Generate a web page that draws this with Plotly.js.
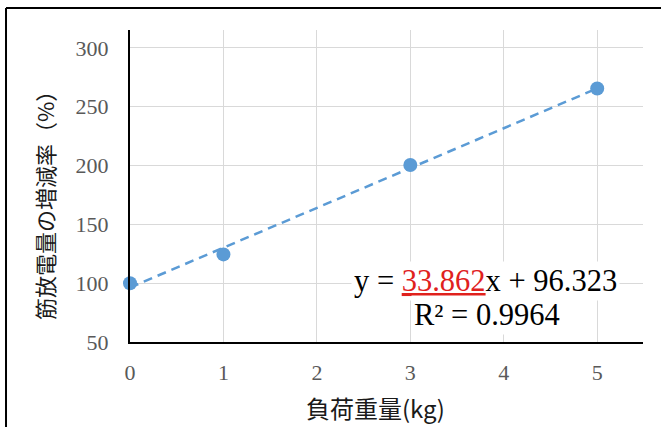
<!DOCTYPE html>
<html>
<head>
<meta charset="utf-8">
<script src="https://cdn.plot.ly/plotly-3.0.1.min.js"></script>
<style>
  html, body { margin: 0; padding: 0; background: #ffffff; }
  #chart { width: 661px; height: 427px; }
</style>
</head>
<body>
<div id="chart"></div>
<script>
// ---- data ----
var loadKg = [0, 1, 3, 5];
var emgChange = [100, 124.5, 200.5, 265.5];

// linear trendline coefficients as printed on the chart
var trendSlope = 33.862;
var trendIntercept = 96.323;
var trendR2 = 0.9964;
var trendX = [0, 5];
var trendY = trendX.map(function (x) { return trendSlope * x + trendIntercept; });

var xTickVals = [0, 1, 2, 3, 4, 5];
var yTickVals = [50, 100, 150, 200, 250, 300];

var xTitle = '負荷重量(kg)';
var yTitle = '筋放電量の増減率（%）';

var blue = '#5b9bd5';
var serif = '"Liberation Serif", "Times New Roman", serif';
var cjk = '"Noto Sans CJK JP", "Noto Sans", sans-serif';

var traces = [
  {
    x: trendX, y: trendY,
    type: 'scatter', mode: 'lines',
    line: { color: blue, width: 2.5, dash: '9px,6px' },
    hoverinfo: 'skip', showlegend: false
  },
  {
    x: loadKg, y: emgChange,
    type: 'scatter', mode: 'markers',
    marker: { color: blue, size: 14 },
    cliponaxis: false, showlegend: false
  }
];

var layout = {
  width: 661, height: 427,
  margin: { l: 130, r: 18, t: 30, b: 85 },
  paper_bgcolor: '#ffffff',
  plot_bgcolor: '#ffffff',
  showlegend: false,
  xaxis: {
    range: [0, 5.49],
    tickvals: xTickVals,
    showgrid: true, gridcolor: '#d9d9d9', gridwidth: 1,
    zeroline: false,
    showline: true, linecolor: '#000000', linewidth: 2,
    ticks: '', ticklabelstandoff: 10,
    tickfont: { family: serif, size: 22, color: '#595959' }
  },
  yaxis: {
    range: [50, 315.3],
    tickvals: yTickVals,
    showgrid: true, gridcolor: '#d9d9d9', gridwidth: 1,
    zeroline: false,
    showline: true, linecolor: '#000000', linewidth: 2,
    ticks: '', ticklabelstandoff: 15,
    tickfont: { family: serif, size: 22, color: '#595959' }
  },
  annotations: [
    {
      text: 'y = <span style="color:#e0211d"><u>33.862</u></span>x + 96.323',
      xref: 'x', yref: 'y', x: 3.80, y: 101.9,
      xanchor: 'center', yanchor: 'middle',
      showarrow: false, bgcolor: '#ffffff', borderpad: 2,
      font: { family: serif, size: 30.5, color: '#000000' }
    },
    {
      text: 'R² = ' + trendR2.toFixed(4),
      xref: 'x', yref: 'y', x: 3.817, y: 73,
      xanchor: 'center', yanchor: 'middle',
      showarrow: false, bgcolor: '#ffffff', borderpad: 2,
      font: { family: serif, size: 30.5, color: '#000000' }
    },
    {
      text: xTitle,
      xref: 'paper', yref: 'paper', x: 0.4776, y: -0.2115,
      xanchor: 'center', yanchor: 'middle', showarrow: false,
      font: { family: cjk, size: 24, color: '#1a1a1a' }
    },
    {
      text: yTitle,
      xref: 'paper', yref: 'paper', x: -0.1676, y: 0.455,
      xanchor: 'center', yanchor: 'middle', showarrow: false,
      textangle: -90,
      font: { family: cjk, size: 22, color: '#1a1a1a' }
    }
  ],
  shapes: [
    { type: 'line', xref: 'paper', yref: 'paper',
      x0: -0.2417, x1: -0.2417, y0: -0.3, y1: 1.0705,
      line: { color: '#000000', width: 2 } },
    { type: 'line', xref: 'paper', yref: 'paper',
      x0: -0.2417, x1: 1.05, y0: 1.0705, y1: 1.0705,
      line: { color: '#000000', width: 2 } }
  ]
};

Plotly.newPlot('chart', traces, layout, { displayModeBar: false, staticPlot: true });
</script>
</body>
</html>
